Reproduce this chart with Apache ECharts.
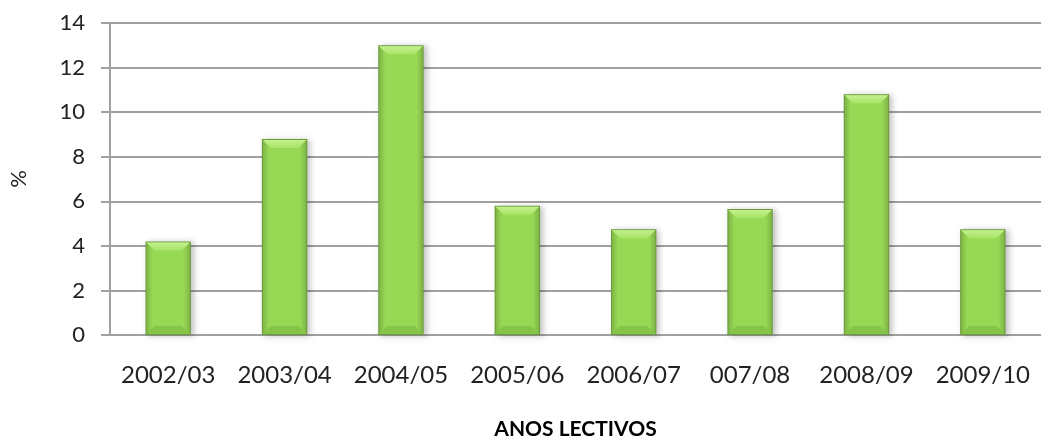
<!DOCTYPE html>
<html><head><meta charset="utf-8">
<script src="https://cdn.jsdelivr.net/npm/echarts@6/dist/echarts.min.js"></script>
<style>html,body{margin:0;padding:0;background:#fff}#c{width:1041px;height:445px}</style>
</head><body><div id="c"></div>
<script>
const categories = ['2002/03','2003/04','2004/05','2005/06','2006/07','007/08','2008/09','2009/10'];
const values = [4.2, 8.8, 13.0, 5.8, 4.75, 5.65, 10.8, 4.75];
const yTicks = {min: 0, max: 14, interval: 2};

const chart = echarts.init(document.getElementById('c'));
const FONT = 'Lato, "Open Sans", sans-serif';

function renderBar(params, api) {
  const idx = api.value(0), v = api.value(1);
  const top = api.coord([idx, v]);
  const bot = api.coord([idx, 0]);
  const w = api.size([1, 0])[0] * 0.39;
  const x0 = top[0] - w / 2, x1 = top[0] + w / 2;
  const y0 = top[1], y1 = bot[1];
  const b = 8;
  return {
    type: 'group',
    children: [
      {type: 'rect', shape: {x: x0, y: y0, width: w, height: y1 - y0},
        style: {fill: '#6c9c3a', shadowBlur: 6, shadowOffsetX: 3, shadowOffsetY: 1, shadowColor: 'rgba(0,0,0,0.25)'}},
      {type: 'rect', shape: {x: x0 + 1, y: y0 + 1, width: w - 2, height: y1 - y0 - 2},
        style: {fill: new echarts.graphic.LinearGradient(0, 0, 1, 0, [
          {offset: 0, color: '#7fb546'}, {offset: 0.14, color: '#97d955'},
          {offset: 0.86, color: '#97d955'}, {offset: 1, color: '#7fb546'}])}},
      {type: 'polygon', shape: {points: [[x0 + 1, y0 + 1], [x1 - 1, y0 + 1], [x1 - 1 - b, y0 + 1 + b], [x0 + 1 + b, y0 + 1 + b]]},
        style: {fill: new echarts.graphic.LinearGradient(0, 0, 0, 1, [
          {offset: 0, color: '#c4f08e'}, {offset: 1, color: '#a8e466'}])}},
      {type: 'polygon', shape: {points: [[x0 + 1, y1 - 1], [x1 - 1, y1 - 1], [x1 - 1 - b, y1 - 1 - b], [x0 + 1 + b, y1 - 1 - b]]},
        style: {fill: '#86c449'}}
    ]
  };
}

chart.setOption({
  animation: false,
  backgroundColor: '#fff',
  grid: {left: 107, right: 0, top: 23, bottom: 104},
  xAxis: {
    type: 'category', data: categories,
    name: 'ANOS LECTIVOS', nameLocation: 'middle', nameGap: 84,
    nameTextStyle: {fontFamily: FONT, fontWeight: 'bold', fontSize: 21, color: '#000'},
    axisLine: {lineStyle: {color: '#a0a0a0', width: 2}},
    axisTick: {show: false},
    axisLabel: {fontFamily: FONT, fontSize: 24, color: '#222', margin: 28, interval: 0}
  },
  yAxis: {
    type: 'value', min: yTicks.min, max: yTicks.max, interval: yTicks.interval,
    name: '%', nameLocation: 'middle', nameGap: 80, nameRotate: 90,
    nameTextStyle: {fontFamily: FONT, fontSize: 22, color: '#222'},
    axisLine: {show: true, lineStyle: {color: '#a0a0a0', width: 2}},
    axisTick: {show: true, length: 9, lineStyle: {color: '#a0a0a0', width: 2}},
    splitLine: {lineStyle: {color: '#a0a0a0', width: 2}},
    axisLabel: {fontFamily: FONT, fontSize: 22, color: '#222', margin: 25}
  },
  series: [{
    type: 'custom', renderItem: renderBar,
    encode: {x: 0, y: 1},
    data: values.map((v, i) => [i, v])
  }]
});
</script></body></html>
